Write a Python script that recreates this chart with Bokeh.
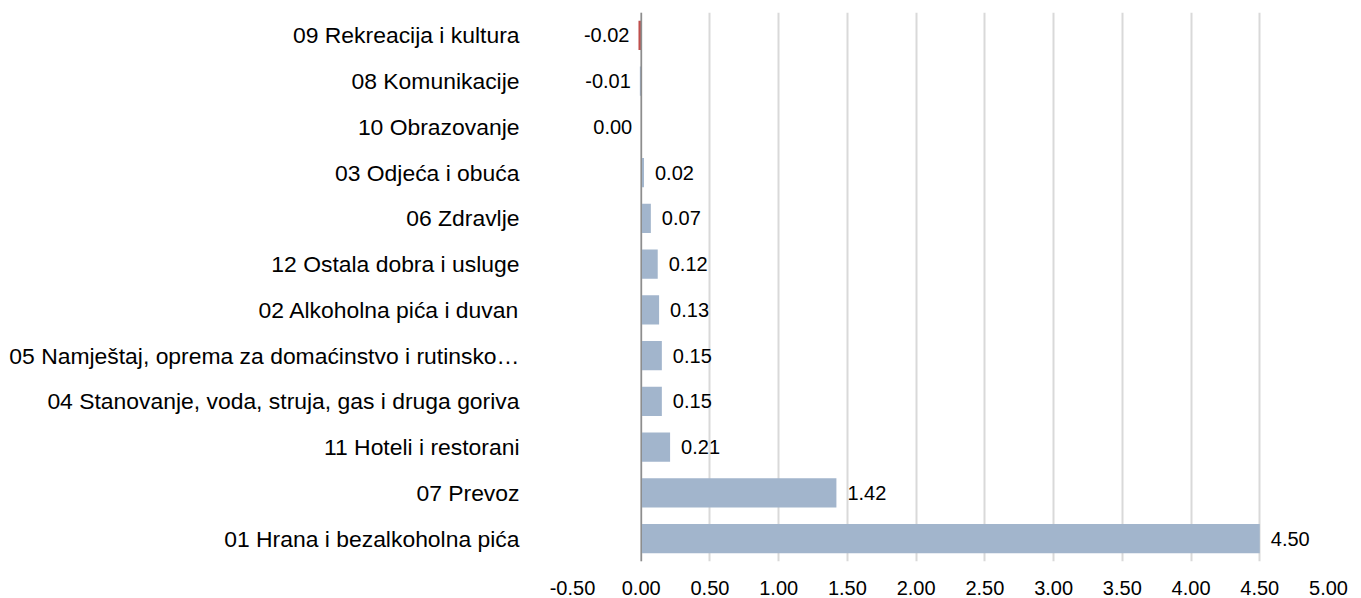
from bokeh.plotting import figure
from bokeh.models import ColumnDataSource, Span, FixedTicker, Range1d, CustomJSTickFormatter
from bokeh.embed import file_html
from bokeh.resources import INLINE
from bokeh.core.properties import value

# Data (top to bottom as in the chart)
categories = [
    "09 Rekreacija i kultura",
    "08 Komunikacije",
    "10 Obrazovanje",
    "03 Odjeća i obuća",
    "06 Zdravlje",
    "12 Ostala dobra i usluge",
    "02 Alkoholna pića i duvan",
    "05 Namještaj, oprema za domaćinstvo i rutinsko…",
    "04 Stanovanje, voda, struja, gas i druga goriva",
    "11 Hoteli i restorani",
    "07 Prevoz",
    "01 Hrana i bezalkoholna pića",
]
values = [-0.02, -0.01, 0.00, 0.02, 0.07, 0.12, 0.13, 0.15, 0.15, 0.21, 1.42, 4.50]
x_ticks = [-0.5, 0.0, 0.5, 1.0, 1.5, 2.0, 2.5, 3.0, 3.5, 4.0, 4.5, 5.0]

highlight = "09 Rekreacija i kultura"
BLUE = "#a2b5cc"
RED = "#c0504d"

colors = [RED if c == highlight else BLUE for c in categories]
labels = ["%.2f" % v for v in values]
pos = [(c, v, l) for c, v, l in zip(categories, values, labels) if v > 0]
neg = [(c, v, l) for c, v, l in zip(categories, values, labels) if v <= 0]

src = ColumnDataSource(dict(cat=categories, val=values, color=colors))
src_pos = ColumnDataSource(dict(cat=[p[0] for p in pos], val=[p[1] for p in pos], lab=[p[2] for p in pos]))
src_neg = ColumnDataSource(dict(cat=[p[0] for p in neg], val=[p[1] for p in neg], lab=[p[2] for p in neg]))

p = figure(
    frame_width=756, frame_height=549,
    y_range=list(reversed(categories)),
    x_range=Range1d(-0.5, 5.0),
    output_backend="svg", toolbar_location=None,
    min_border_top=12, min_border_right=25, min_border_bottom=0, min_border_left=572,
)
p.outline_line_color = None
p.background_fill_color = "white"

p.hbar(y="cat", left=0, right="val", height=0.64, color="color", source=src, line_color=None)

zero = Span(location=0, dimension="height", line_color="#8c8c8c", line_width=1.5)
p.add_layout(zero)

p.text(x="val", y="cat", text="lab", source=src_pos, x_offset=11,
       text_align="left", text_baseline="middle", text_font_size="20px",
       text_font=value("Liberation Sans"), text_color="#000000")
p.text(x="val", y="cat", text="lab", source=src_neg, x_offset=-9,
       text_align="right", text_baseline="middle", text_font_size="20px",
       text_font=value("Liberation Sans"), text_color="#000000")

p.xgrid.ticker = FixedTicker(ticks=x_ticks)
p.xgrid.grid_line_color = "#d9d9d9"
p.xgrid.grid_line_width = 2
p.ygrid.grid_line_color = None

p.xaxis.ticker = FixedTicker(ticks=x_ticks)
p.xaxis.formatter = CustomJSTickFormatter(code="return tick.toFixed(2);")
p.xaxis.axis_line_color = None
p.xaxis.major_tick_line_color = None
p.xaxis.minor_tick_line_color = None
p.xaxis.major_label_text_font = "Liberation Sans"
p.xaxis.major_label_text_font_size = "20px"
p.xaxis.major_label_text_color = "#000000"
p.xaxis.major_label_standoff = 13

p.yaxis.axis_line_color = None
p.yaxis.major_tick_line_color = None
p.yaxis.minor_tick_line_color = None
p.yaxis.major_label_text_font = "Liberation Sans"
p.yaxis.major_label_text_font_size = "22.9px"
p.yaxis.major_label_text_color = "#000000"
p.yaxis.major_label_standoff = 47

open("out.html", "w").write(file_html(p, INLINE))
